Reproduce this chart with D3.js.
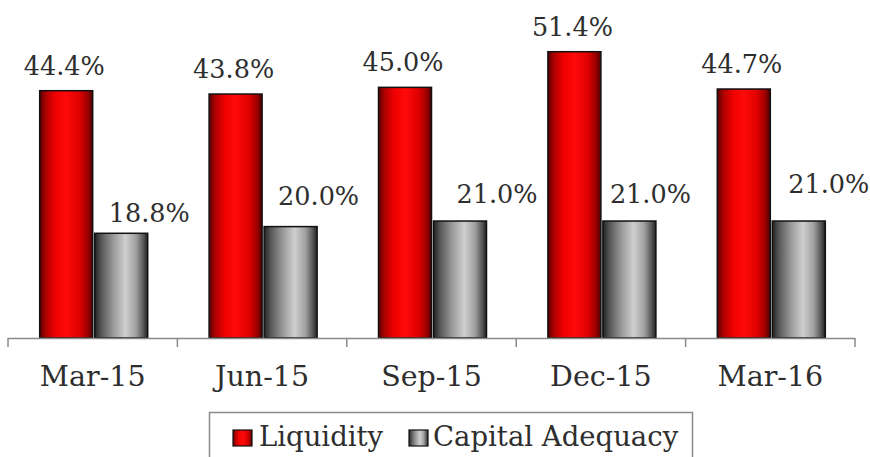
<!DOCTYPE html>
<html>
<head>
<meta charset="utf-8">
<script src="https://cdn.jsdelivr.net/npm/d3@7/dist/d3.min.js"></script>
<style>
  html, body { margin: 0; padding: 0; background: #fff; }
  svg { display: block; }
  text { font-family: "DejaVu Serif", Georgia, serif; fill: #2e2e2e; }
</style>
</head>
<body>
<svg id="chart" width="870" height="457"></svg>
<script>
// Quarterly ratios (%)
const quarters = ["Mar-15", "Jun-15", "Sep-15", "Dec-15", "Mar-16"];
const seriesNames = ["Liquidity", "Capital Adequacy"];
const liquidity = [44.4, 43.8, 45.0, 51.4, 44.7];
const capitalAdequacy = [18.8, 20.0, 21.0, 21.0, 21.0];

// Hand-placed nudges for the capital adequacy value labels (px)
const capLabelDx = [28, 28, 37, 21, 30];
const capLabelDy = [-11, -22, -18, -18, -28];

const svg = d3.select("#chart");
const left = 8, right = 855, baseY = 338;

const x0 = d3.scaleBand().domain(quarters).range([left, right]).padding(0);
const groupW = 108;
const x1 = d3.scaleBand().domain(seriesNames).range([0, groupW]).paddingInner(2 / 55).paddingOuter(0);
const y = d3.scaleLinear().domain([0, 60]).range([baseY, baseY - 60 * 5.57]);

// Cylinder-like horizontal shading for the bars
const defs = svg.append("defs");
function grad(id, stops) {
  const g = defs.append("linearGradient").attr("id", id)
    .attr("x1", "0%").attr("x2", "100%").attr("y1", "0%").attr("y2", "0%");
  stops.forEach(([o, c]) => g.append("stop").attr("offset", o).attr("stop-color", c));
}
grad("gRed", [["0%", "#5a0000"], ["12%", "#b00000"], ["30%", "#f00000"], ["50%", "#ff0a0a"], ["75%", "#e00000"], ["90%", "#a00000"], ["100%", "#500000"]]);
grad("gGray", [["0%", "#222"], ["12%", "#555"], ["35%", "#999"], ["58%", "#cfcfcf"], ["78%", "#a0a0a0"], ["92%", "#555"], ["100%", "#222"]]);

const fills = { "Liquidity": "url(#gRed)", "Capital Adequacy": "url(#gGray)" };
const values = { "Liquidity": liquidity, "Capital Adequacy": capitalAdequacy };

const groupOffset = (x0.bandwidth() - groupW) / 2 + 1;

const groups = svg.append("g").selectAll("g")
  .data(quarters)
  .join("g")
  .attr("transform", d => `translate(${x0(d) + groupOffset},0)`);

groups.selectAll("rect")
  .data((q, i) => seriesNames.map(s => ({ s, v: values[s][i] })))
  .join("rect")
  .attr("x", d => x1(d.s))
  .attr("y", d => y(d.v))
  .attr("width", x1.bandwidth())
  .attr("height", d => y(0) - y(d.v))
  .attr("fill", d => fills[d.s])
  .attr("stroke", "#111")
  .attr("stroke-width", 1.5);

// Value labels
groups.append("text")
  .attr("x", x1("Liquidity") + x1.bandwidth() / 2 - 2)
  .attr("y", (q, i) => y(liquidity[i]) - 16)
  .attr("text-anchor", "middle")
  .attr("font-size", 25.5)
  .text((q, i) => liquidity[i].toFixed(1) + "%");

groups.append("text")
  .attr("x", (q, i) => x1("Capital Adequacy") + x1.bandwidth() / 2 + capLabelDx[i])
  .attr("y", (q, i) => y(capitalAdequacy[i]) + capLabelDy[i])
  .attr("text-anchor", "middle")
  .attr("font-size", 25.5)
  .text((q, i) => capitalAdequacy[i].toFixed(1) + "%");

// Category axis: labels from d3.axisBottom, boundary ticks between categories
const axis = svg.append("g")
  .attr("transform", `translate(0,${baseY})`)
  .call(d3.axisBottom(x0).tickSize(0).tickPadding(28));
axis.select(".domain").remove();
axis.selectAll("text")
  .attr("font-size", 28.5)
  .attr("fill", "#2e2e2e")
  .style("font-family", "DejaVu Serif, Georgia, serif");

const bounds = quarters.map(q => x0(q)).concat([right]);
svg.append("line")
  .attr("x1", left).attr("x2", right)
  .attr("y1", baseY + 0.5).attr("y2", baseY + 0.5)
  .attr("stroke", "#8a8a8a").attr("stroke-width", 1.5);
svg.append("g").selectAll("line")
  .data(bounds)
  .join("line")
  .attr("x1", d => d).attr("x2", d => d)
  .attr("y1", baseY).attr("y2", baseY + 9)
  .attr("stroke", "#8a8a8a").attr("stroke-width", 1.5);

// Legend
const legend = svg.append("g");
legend.append("rect")
  .attr("x", 209.5).attr("y", 412.5)
  .attr("width", 483).attr("height", 60)
  .attr("fill", "#fff").attr("stroke", "#8a8a8a").attr("stroke-width", 1.5);

const legendItems = [
  { s: "Liquidity", sx: 233, tx: 259 },
  { s: "Capital Adequacy", sx: 409, tx: 433 }
];
legendItems.forEach(it => {
  legend.append("rect")
    .attr("x", it.sx).attr("y", 430)
    .attr("width", 19).attr("height", 16)
    .attr("fill", fills[it.s]).attr("stroke", "#111").attr("stroke-width", 1.2);
  legend.append("text")
    .attr("x", it.tx).attr("y", 446)
    .attr("font-size", 27.5)
    .text(it.s);
});
</script>
</body>
</html>
